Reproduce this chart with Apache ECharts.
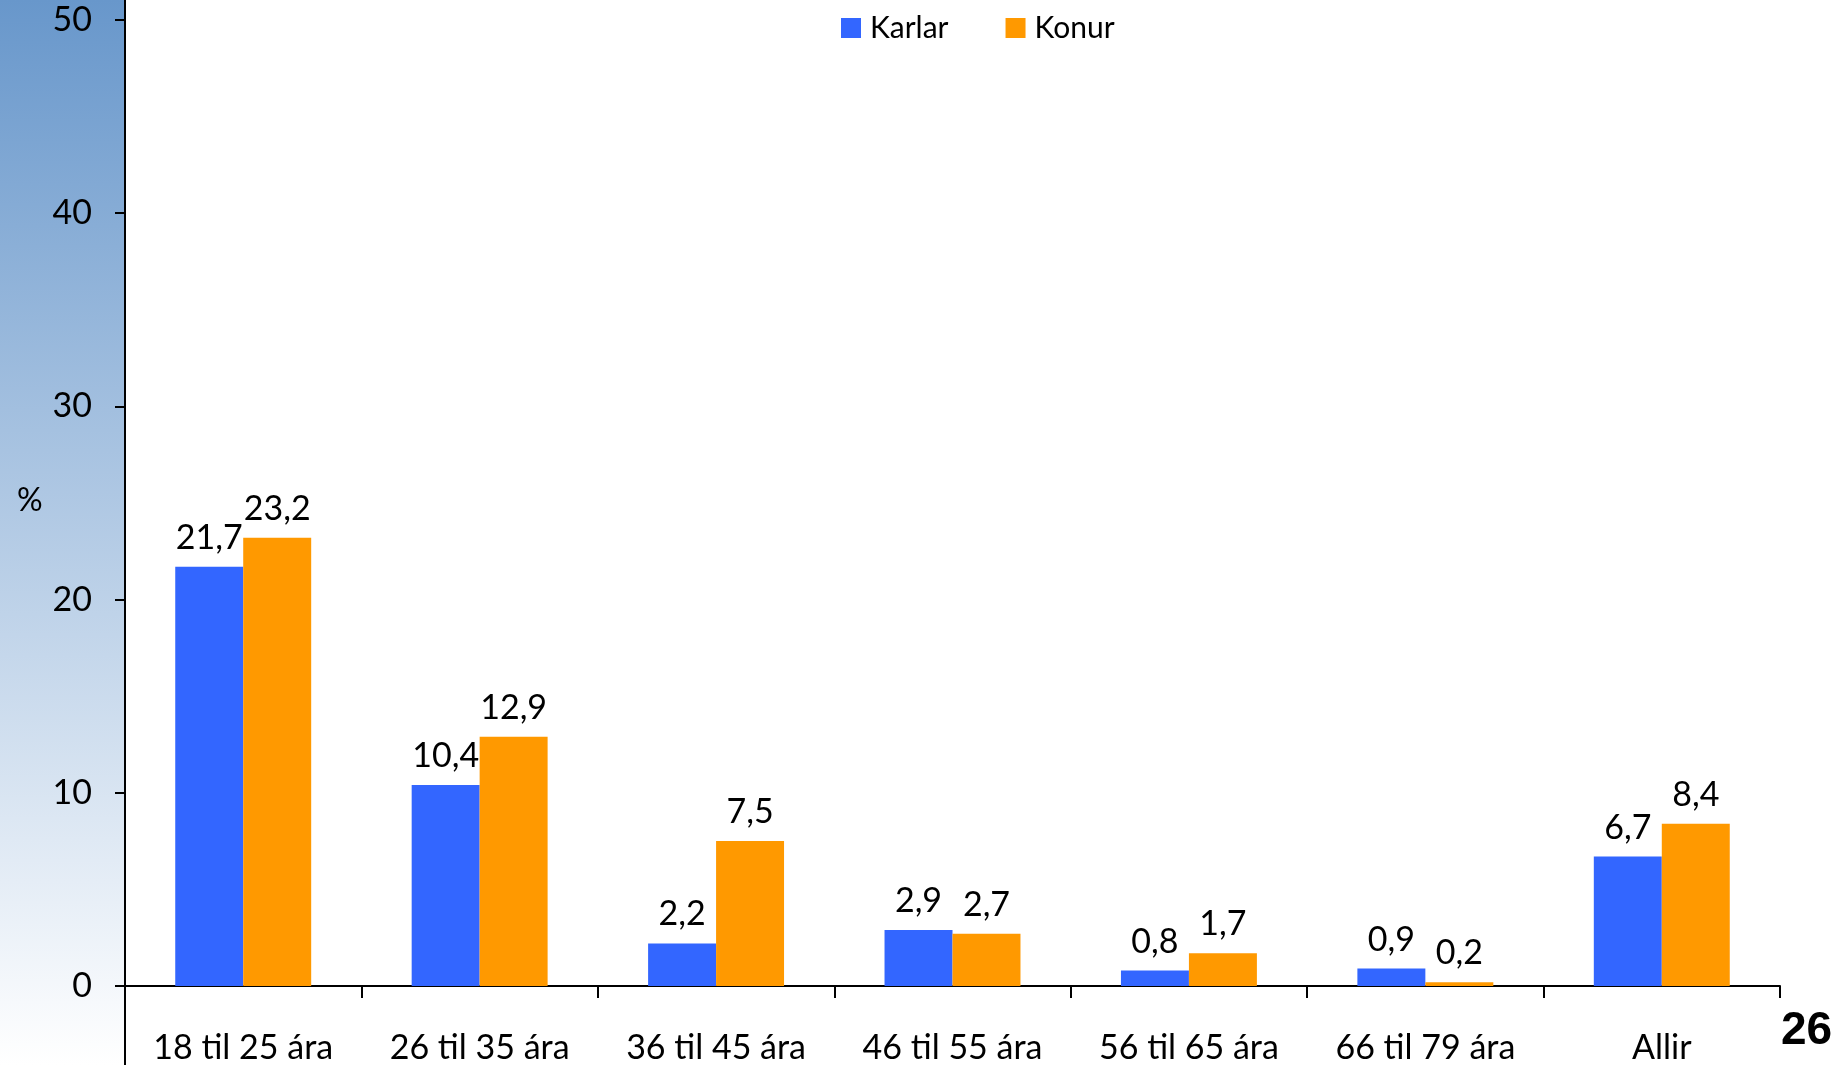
<!DOCTYPE html>
<html>
<head>
<meta charset="utf-8">
<script src="https://cdn.jsdelivr.net/npm/echarts@6/dist/echarts.min.js"></script>
<style>
  html, body { margin: 0; padding: 0; background: #fff; }
  #chart { width: 1836px; height: 1065px; }
</style>
</head>
<body>
<div id="chart"></div>
<script>
// Data
const categories = ['18 til 25 ára', '26 til 35 ára', '36 til 45 ára', '46 til 55 ára', '56 til 65 ára', '66 til 79 ára', 'Allir']
const karlar = [21.7, 10.4, 2.2, 2.9, 0.8, 0.9, 6.7]
const konur = [23.2, 12.9, 7.5, 2.7, 1.7, 0.2, 8.4]
const yTicks = [0, 10, 20, 30, 40, 50]

// Colors
const COLOR_KARLAR = '#3366ff'
const COLOR_KONUR = '#ff9900'
const FONT = 'Lato, "Open Sans", sans-serif'

const GRID_LEFT = 125
const GRID_TOP = 20
const GRID_RIGHT = 56
const GRID_BOTTOM = 77

const chart = echarts.init(document.getElementById('chart'))

const fmt = (p) => String(p.value).replace('.', ',')

chart.setOption({
  animation: false,
  backgroundColor: '#fff',
  graphic: [
    // gradient strip behind the y axis labels
    {
      type: 'rect',
      z: -10,
      shape: { x: 0, y: 0, width: GRID_LEFT, height: 1065 },
      style: {
        fill: new echarts.graphic.LinearGradient(0, 0, 0, 1, [
          { offset: 0, color: '#6897cb' },
          { offset: 1, color: '#ffffff' },
        ]),
      },
    },
    // y axis line runs the full height
    {
      type: 'line',
      shape: { x1: GRID_LEFT, y1: 0, x2: GRID_LEFT, y2: 1065 },
      style: { stroke: '#000', lineWidth: 2 },
    },
    {
      type: 'text',
      left: 17,
      top: 485,
      style: { text: '%', font: `32px ${FONT}`, fill: '#000' },
    },
    {
      type: 'text',
      left: 1781,
      top: 1008,
      style: { text: '26', font: `bold 46px Arial, "Liberation Sans", sans-serif`, fill: '#000' },
    },
  ],
  legend: {
    left: 836,
    top: 8,
    itemWidth: 20,
    itemHeight: 20,
    itemGap: 57,
    icon: 'rect',
    textStyle: { fontFamily: FONT, fontSize: 30, color: '#000', padding: [0, 0, 0, 4] },
    data: ['Karlar', 'Konur'],
  },
  grid: { left: GRID_LEFT, right: GRID_RIGHT, top: GRID_TOP, bottom: GRID_BOTTOM, containLabel: false },
  xAxis: {
    type: 'category',
    data: categories,
    axisLine: { lineStyle: { color: '#000', width: 2 } },
    axisTick: { show: true, length: 12, lineStyle: { color: '#000', width: 2 } },
    axisLabel: { color: '#000', fontFamily: FONT, fontSize: 34, margin: 45 },
  },
  yAxis: {
    type: 'value',
    min: 0,
    max: 50,
    interval: 10,
    axisLine: { show: false },
    axisTick: { show: true, length: 10, lineStyle: { color: '#000', width: 2 } },
    splitLine: { show: false },
    axisLabel: { color: '#000', fontFamily: FONT, fontSize: 34, margin: 33 },
  },
  series: [
    {
      name: 'Karlar',
      type: 'bar',
      data: karlar,
      barGap: '0%',
      barCategoryGap: '42.5%',
      itemStyle: { color: COLOR_KARLAR },
      label: { show: true, position: 'top', distance: 12, formatter: fmt, color: '#000', fontFamily: FONT, fontSize: 34 },
    },
    {
      name: 'Konur',
      type: 'bar',
      data: konur,
      barGap: '0%',
      barCategoryGap: '42.5%',
      itemStyle: { color: COLOR_KONUR },
      label: { show: true, position: 'top', distance: 12, formatter: fmt, color: '#000', fontFamily: FONT, fontSize: 34 },
    },
  ],
})
</script>
</body>
</html>
